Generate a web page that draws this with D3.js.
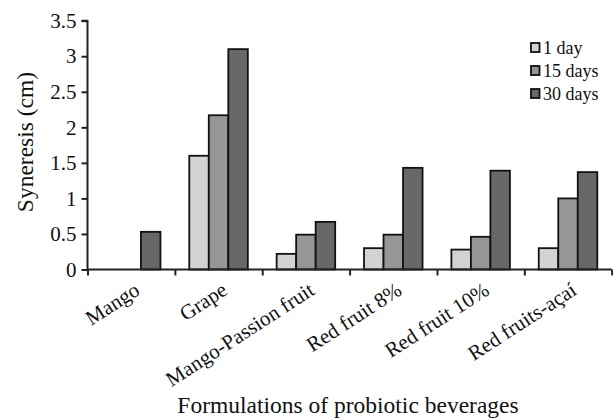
<!DOCTYPE html>
<html lang="en">
<head>
<meta charset="UTF-8">
<script src="https://cdn.jsdelivr.net/npm/d3@7"></script>
<style>
  body { margin: 0; background: #fff; }
  text { font-family: "Liberation Serif", "Times New Roman", serif; fill: #111; }
</style>
</head>
<body>
<svg id="chart" width="613" height="419"></svg>
<script>
// data
const categories = ['Mango', 'Grape', 'Mango-Passion fruit', 'Red fruit 8%', 'Red fruit 10%', 'Red fruits-açaí'];
const seriesNames = ['1 day', '15 days', '30 days'];
const day1   = [0,    1.60, 0.22, 0.30, 0.28, 0.30];
const days15 = [0,    2.17, 0.49, 0.49, 0.46, 1.00];
const days30 = [0.53, 3.10, 0.67, 1.43, 1.39, 1.37];
const yTicks = [0, 0.5, 1, 1.5, 2, 2.5, 3, 3.5];
const colors = ['#d3d3d3', '#969696', '#686868'];

const series = [day1, days15, days30];
const svg = d3.select('#chart');

const plotL = 87.5, plotR = 611.7, plotT = 20.7, plotB = 269.5;

const y = d3.scaleLinear().domain([0, 3.5]).range([plotB, plotT]);
// outer scale: one band per formulation, group centred in the band
const x0 = d3.scaleBand().domain(categories).range([plotL, plotR])
    .paddingInner(0.33).paddingOuter(0.165);
const x1 = d3.scaleBand().domain(seriesNames).range([0, x0.bandwidth()]);
// linear scale for the tick marks between the categories
const xTicks = d3.scaleLinear().domain([0, categories.length]).range([plotL, plotR]);

// bars
const groups = svg.append('g').selectAll('g')
    .data(categories)
    .enter().append('g')
    .attr('transform', d => 'translate(' + x0(d) + ',0)');

groups.selectAll('rect')
    .data((d, i) => seriesNames.map((s, k) => ({ s: s, k: k, v: series[k][i] })).filter(e => e.v > 0))
    .enter().append('rect')
    .attr('x', d => x1(d.s))
    .attr('y', d => y(d.v))
    .attr('width', x1.bandwidth())
    .attr('height', d => y(0) - y(d.v))
    .attr('fill', d => colors[d.k])
    .attr('stroke', '#111')
    .attr('stroke-width', 1.8);

// y axis
const yAxis = svg.append('g')
    .attr('transform', 'translate(' + plotL + ',0)')
    .call(d3.axisLeft(y).tickValues(yTicks).tickSize(6).tickPadding(5)
        .tickFormat(d => d));
yAxis.selectAll('line, path').attr('stroke', '#222').attr('stroke-width', 2);
yAxis.select('.domain').attr('d', 'M0,' + plotB + 'V' + plotT + 'H-6');
yAxis.selectAll('text').attr('font-size', 21).attr('fill', '#111')
    .style('font-family', '"Liberation Serif", serif');

// x axis
const xAxis = svg.append('g')
    .attr('transform', 'translate(0,' + plotB + ')')
    .call(d3.axisBottom(xTicks).tickValues(d3.range(categories.length + 1))
        .tickSize(6).tickFormat(''));
xAxis.selectAll('line, path').attr('stroke', '#222').attr('stroke-width', 2);
xAxis.select('.domain').attr('d', 'M' + plotL + ',0H' + plotR);

// category labels, rotated
svg.append('g').selectAll('text')
    .data(categories)
    .enter().append('text')
    .attr('text-anchor', 'end')
    .attr('font-size', 21)
    .attr('transform', d => 'translate(' + (x0(d) + x0.bandwidth() / 2 + 10) + ',' + (plotB + 24) + ') rotate(-33)')
    .text(d => d);

// axis titles
svg.append('text')
    .attr('text-anchor', 'middle')
    .attr('font-size', 23.5)
    .attr('transform', 'translate(33,142) rotate(-90)')
    .text('Syneresis (cm)');

svg.append('text')
    .attr('text-anchor', 'middle')
    .attr('font-size', 23.5)
    .attr('x', 348)
    .attr('y', 413)
    .text('Formulations of probiotic beverages');

// legend
const legend = svg.append('g').selectAll('g')
    .data(seriesNames)
    .enter().append('g')
    .attr('transform', (d, i) => 'translate(531,' + (47.5 + i * 23) + ')');
legend.append('rect')
    .attr('x', 0).attr('y', -4.5)
    .attr('width', 8.5).attr('height', 9)
    .attr('fill', (d, i) => colors[i])
    .attr('stroke', '#111').attr('stroke-width', 1.8);
legend.append('text')
    .attr('x', 12).attr('y', 6)
    .attr('font-size', 18)
    .text(d => d);
</script>
</body>
</html>
